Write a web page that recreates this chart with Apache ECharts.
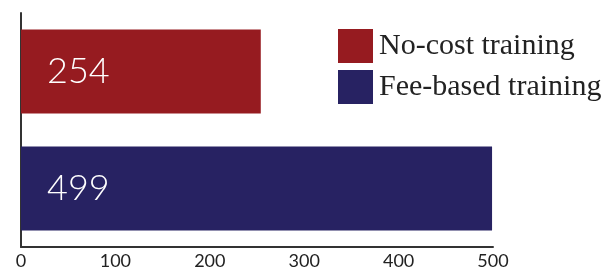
<!DOCTYPE html>
<html>
<head>
<meta charset="UTF-8">
<script src="https://cdn.jsdelivr.net/npm/echarts@6/dist/echarts.min.js"></script>
<style>
  html, body { margin: 0; padding: 0; background: #fff; }
  #chart { width: 610px; height: 270px; }
</style>
</head>
<body>
<div id="chart"></div>
<script type="text/javascript">
// Chart data.
const categories = ['No-cost training', 'Fee-based training'];
const values = [254, 499];
const colors = ['#961b20', '#272262'];
const xTicks = [0, 100, 200, 300, 400, 500];

const chart = echarts.init(document.getElementById('chart'));

// One series per category so the legend gets both entries.
const series = categories.map((name, i) => ({
    name: name,
    type: 'bar',
    stack: 'all',
    barWidth: 84,
    itemStyle: { color: colors[i] },
    label: {
        show: true,
        position: 'insideLeft',
        distance: 26,
        color: '#ffffff',
        fontFamily: 'Lato',
        fontWeight: 300,
        fontSize: 36
    },
    data: values.map((v, j) => (j === i ? v : '-'))
}));

const option = {
    animation: false,
    backgroundColor: '#ffffff',
    grid: { left: 21, right: 117, top: 13, bottom: 23 },
    legend: {
        data: categories,
        orient: 'vertical',
        left: 333,
        top: 24,
        itemWidth: 35,
        itemHeight: 34,
        itemGap: 7,
        icon: 'rect',
        textStyle: {
            fontFamily: 'Liberation Serif',
            fontSize: 30,
            color: '#222222',
            padding: [0, 0, 0, 1]
        }
    },
    xAxis: {
        type: 'value',
        min: xTicks[0],
        max: xTicks[xTicks.length - 1],
        interval: 100,
        axisLine: { show: true, lineStyle: { color: '#333333', width: 2 } },
        axisTick: { show: false },
        splitLine: { show: false },
        axisLabel: {
            margin: 5,
            fontFamily: 'Lato',
            fontSize: 18,
            color: '#222222'
        }
    },
    yAxis: {
        type: 'category',
        inverse: true,
        data: categories,
        axisLine: { show: true, lineStyle: { color: '#333333', width: 2 } },
        axisTick: { show: false },
        axisLabel: { show: false }
    },
    series: series
};

chart.setOption(option);
</script>
</body>
</html>
